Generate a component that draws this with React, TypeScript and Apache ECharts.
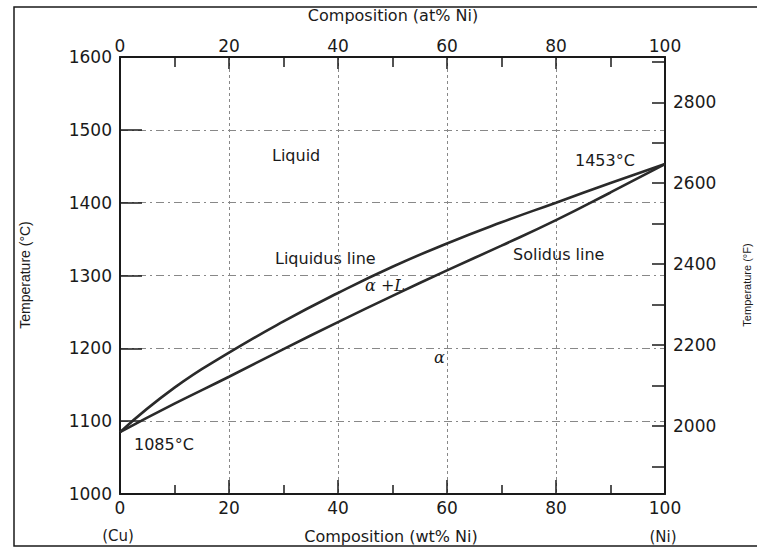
import React, { useEffect, useRef } from "react";
import * as echarts from "echarts";

// Composition (wt% Ni) sample points
const wtPctNi = [0, 10, 20, 30, 40, 50, 60, 70, 80, 90, 100];
// Liquidus temperature (°C)
const liquidusC = [1085, 1146, 1194, 1237, 1276, 1312, 1344, 1373, 1400, 1427, 1453];
// Solidus temperature (°C)
const solidusC = [1085, 1124, 1161, 1199, 1236, 1272, 1307, 1341, 1376, 1414, 1453];

const celsiusMin = 1000;
const celsiusMax = 1600;
const fahrenheitTicks = [1900, 2000, 2100, 2200, 2300, 2400, 2500, 2600, 2700, 2800, 2900];
const fahrenheitLabels = [2000, 2200, 2400, 2600, 2800];

const FONT = "DejaVu Sans";
const INK = "#1a1a1a";

export default function App() {
  const ref = useRef<HTMLDivElement>(null);

  useEffect(() => {
    if (!ref.current) return;
    const chart = echarts.init(ref.current, null, { renderer: "svg" });

    const toF = (c: number) => (c * 9) / 5 + 32;
    const plain = (v: number) => String(Math.round(v));

    const txt = (text: string, x: number, y: number, opts: any = {}) => ({
      type: "text",
      x,
      y,
      rotation: opts.rotation || 0,
      silent: true,
      style: {
        text,
        fill: INK,
        fontSize: opts.fontSize || 16,
        fontFamily: opts.fontFamily || FONT,
        fontStyle: opts.fontStyle || "normal",
        align: opts.align || "left",
        verticalAlign: "middle",
        textAlign: opts.align || "left",
        textVerticalAlign: "middle",
      },
    });

    const compAxisCommon = {
      type: "value",
      min: 0,
      max: 100,
      interval: 20,
      axisLine: { show: true, onZero: false, lineStyle: { color: INK, width: 2 } },
      axisLabel: { color: INK, fontSize: 17, fontFamily: FONT, formatter: plain },
    };

    chart.setOption({
      animation: false,
      backgroundColor: "#fff",
      grid: { left: 120, top: 57, width: 545, height: 437 },
      xAxis: [
        {
          ...compAxisCommon,
          position: "bottom",
          axisTick: { show: true, inside: true, length: 14, lineStyle: { color: INK, width: 1.5 } },
          minorTick: { show: true, splitNumber: 2, length: 9, lineStyle: { color: INK, width: 1.5 } },
          axisLabel: { ...compAxisCommon.axisLabel, margin: 5 },
          splitLine: { show: true, lineStyle: { color: "#888", width: 1, type: [3, 3] } },
        },
        {
          ...compAxisCommon,
          position: "top",
          axisTick: { show: true, inside: true, length: 12, lineStyle: { color: INK, width: 1.5 } },
          minorTick: { show: true, splitNumber: 2, length: 10, lineStyle: { color: INK, width: 1.5 } },
          axisLabel: { ...compAxisCommon.axisLabel, margin: 3 },
          splitLine: { show: false },
        },
      ],
      yAxis: [
        {
          type: "value",
          position: "left",
          min: celsiusMin,
          max: celsiusMax,
          interval: 100,
          axisLine: { show: true, onZero: false, lineStyle: { color: INK, width: 2 } },
          axisTick: { show: true, inside: true, length: 22, lineStyle: { color: INK, width: 1.5 } },
          axisLabel: { color: INK, fontSize: 17, fontFamily: FONT, margin: 8, formatter: plain },
          splitLine: { show: true, lineStyle: { color: "#888", width: 1, type: [8, 4, 2, 4] } },
        },
        {
          type: "value",
          position: "right",
          min: toF(celsiusMin),
          max: toF(celsiusMax),
          axisLine: { show: true, onZero: false, lineStyle: { color: INK, width: 2 } },
          axisTick: {
            show: true,
            inside: true,
            length: 13,
            customValues: fahrenheitTicks,
            lineStyle: { color: INK, width: 1.5 },
          },
          axisLabel: {
            color: INK,
            fontSize: 17,
            fontFamily: FONT,
            margin: 8,
            formatter: plain,
            customValues: fahrenheitLabels,
          },
          splitLine: { show: false },
        },
      ],
      series: [
        {
          name: "Liquidus",
          type: "line",
          xAxisIndex: 0,
          yAxisIndex: 0,
          smooth: 0.5,
          showSymbol: false,
          symbol: "none",
          lineStyle: { color: "#2a2a2a", width: 2.6 },
          data: wtPctNi.map((w, i) => [w, liquidusC[i]]),
          z: 5,
        },
        {
          name: "Solidus",
          type: "line",
          xAxisIndex: 0,
          yAxisIndex: 0,
          smooth: 0.5,
          showSymbol: false,
          symbol: "none",
          lineStyle: { color: "#2a2a2a", width: 2.6 },
          data: wtPctNi.map((w, i) => [w, solidusC[i]]),
          z: 5,
        },
      ],
      graphic: [
        {
          type: "rect",
          silent: true,
          shape: { x: 14, y: 7, width: 760, height: 539 },
          style: { fill: "none", stroke: INK, lineWidth: 1.5 },
        },
        txt("Composition (at% Ni)", 393, 15, { align: "center" }),
        txt("Composition (wt% Ni)", 391, 536, { align: "center" }),
        txt("(Cu)", 118, 536, { align: "center", fontSize: 15 }),
        txt("(Ni)", 663, 537, { align: "center", fontSize: 15 }),
        txt("Temperature (°C)", 25, 275, {
          align: "center",
          rotation: Math.PI / 2,
          fontSize: 14,
          fontFamily: "Liberation Sans Narrow, Liberation Sans, sans-serif",
        }),
        txt("Temperature (°F)", 747, 285, {
          align: "center",
          rotation: Math.PI / 2,
          fontSize: 11,
          fontFamily: "Liberation Sans Narrow, Liberation Sans, sans-serif",
        }),
        txt("Liquid", 272, 155),
        txt("1453°C", 575, 160),
        txt("Liquidus line", 275, 258),
        txt("Solidus line", 513, 254),
        txt("α +L", 365, 285, { fontFamily: "DejaVu Serif", fontStyle: "italic", fontSize: 16 }),
        txt("α", 434, 357, { fontFamily: "DejaVu Serif", fontStyle: "italic", fontSize: 16 }),
        txt("1085°C", 134, 444),
      ],
    });

    return () => chart.dispose();
  }, []);

  return (
    <div
      ref={ref}
      style={{ position: "fixed", left: 0, top: 0, width: 757, height: 549, background: "#fff" }}
    />
  );
}
